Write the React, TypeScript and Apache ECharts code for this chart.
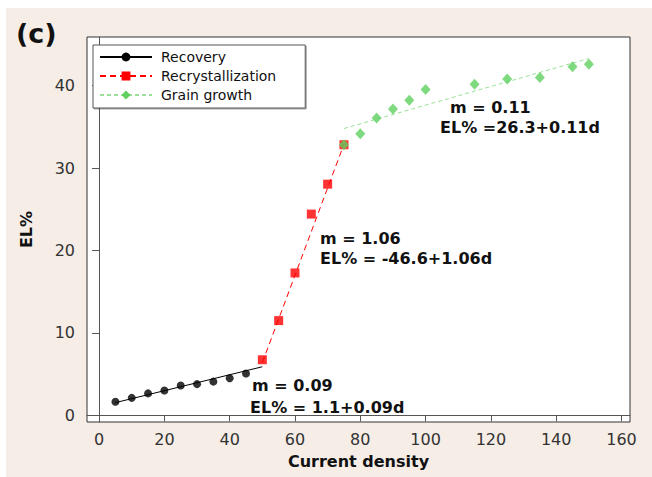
import React, { useEffect, useRef } from "react";
import * as echarts from "echarts";

const xTicks = [0, 20, 40, 60, 80, 100, 120, 140, 160];
const yTicks = [0, 10, 20, 30, 40];

const recoveryX = [5, 10, 15, 20, 25, 30, 35, 40, 45];
const recoveryY = [1.65, 2.13, 2.67, 3.03, 3.62, 3.79, 4.1, 4.5, 5.09];

const recrystX = [50, 55, 60, 65, 70, 75];
const recrystY = [6.75, 11.5, 17.28, 24.42, 28.05, 32.83];

const grainX = [75, 80, 85, 90, 95, 100, 115, 125, 135, 145, 150];
const grainY = [32.83, 34.17, 36.08, 37.16, 38.24, 39.53, 40.16, 40.8, 41.0, 42.3, 42.6];

const recoveryFit = [[5, 1.55], [50, 5.9]];
const recrystFit = [[50, 6.4], [75, 32.9]];
const grainFit = [[75, 34.8], [150, 43.3]];

const seriesNames = ["Recovery", "Recrystallization", "Grain growth"];

const annotations = [
  { text: "m = 0.09", x: 252, y: 385 },
  { text: "EL% = 1.1+0.09d", x: 250, y: 407 },
  { text: "m = 1.06", x: 320, y: 238 },
  { text: "EL% = -46.6+1.06d", x: 320, y: 258 },
  { text: "m = 0.11", x: 450, y: 107 },
  { text: "EL% =26.3+0.11d", x: 440, y: 127 },
];

const zip = (xs: number[], ys: number[]) => xs.map((x, i) => [x, ys[i]]);

const FONT = "DejaVu Sans";

export default function App() {
  const ref = useRef<HTMLDivElement>(null);
  useEffect(() => {
    if (!ref.current) return;
    const chart = echarts.init(ref.current, undefined, { renderer: "svg" });
    const green = "#5fcf5f";
    const option: any = {
      animation: false,
      backgroundColor: "transparent",
      grid: {
        left: 87,
        top: 37,
        right: 22,
        bottom: 55,
        show: true,
        backgroundColor: "#ffffff",
        borderColor: "#333333",
        borderWidth: 1,
      },
      legend: {
        orient: "vertical",
        left: 93,
        top: 45,
        data: seriesNames,
        itemWidth: 52,
        itemHeight: 11,
        itemGap: 5,
        padding: [5, 29, 6, 6],
        borderColor: "#555555",
        borderWidth: 1,
        backgroundColor: "#ffffff",
        shadowColor: "rgba(0,0,0,0.35)",
        shadowOffsetX: 1,
        shadowOffsetY: 1,
        shadowBlur: 0,
        selectedMode: false,
        textStyle: {
          fontFamily: FONT,
          fontSize: 14,
          color: "#111111",
          padding: [0, 0, 0, 4],
        },
      },
      xAxis: {
        type: "value",
        min: -3.7,
        max: 162.6,
        name: "Current density",
        nameLocation: "middle",
        nameGap: 31,
        nameTextStyle: { fontFamily: FONT, fontSize: 16, fontWeight: "bold", color: "#111111" },
        splitLine: { show: false },
        axisLine: { show: true, lineStyle: { color: "#555555", width: 1 } },
        axisTick: { show: true, customValues: xTicks, length: 6, lineStyle: { color: "#555555" } },
        axisLabel: {
          customValues: xTicks,
          margin: 9,
          fontFamily: FONT,
          fontSize: 16,
          color: "#333333",
        },
      },
      yAxis: {
        type: "value",
        min: -0.8,
        max: 45.9,
        name: "EL%",
        nameLocation: "middle",
        nameGap: 53,
        nameTextStyle: { fontFamily: FONT, fontSize: 16, fontWeight: "bold", color: "#111111" },
        splitLine: { show: false },
        axisLine: { show: true, lineStyle: { color: "#555555", width: 1 } },
        axisTick: { show: true, customValues: yTicks, length: 7, lineStyle: { color: "#555555" } },
        axisLabel: {
          customValues: yTicks,
          margin: 12,
          fontFamily: FONT,
          fontSize: 16,
          color: "#333333",
        },
      },
      series: [
        {
          name: seriesNames[0],
          type: "line",
          data: recoveryFit,
          symbol: "circle",
          symbolSize: 7,
          showSymbol: false,
          itemStyle: { color: "#000000" },
          lineStyle: { color: "#000000", width: 1, type: "solid" },
          z: 2,
        },
        {
          name: seriesNames[1],
          type: "line",
          data: recrystFit,
          symbol: "rect",
          symbolSize: 8,
          showSymbol: false,
          itemStyle: { color: "#ff0000" },
          lineStyle: { color: "#ff0000", width: 1, type: [6, 4] },
          z: 2,
        },
        {
          name: seriesNames[2],
          type: "line",
          data: grainFit,
          symbol: "diamond",
          symbolSize: 9,
          showSymbol: false,
          itemStyle: { color: green },
          lineStyle: { color: "#99e099", width: 1, type: [4, 3] },
          z: 2,
        },
        {
          name: "Recovery data",
          type: "scatter",
          data: zip(recoveryX, recoveryY),
          symbol: "circle",
          symbolSize: 8,
          itemStyle: { color: "#000000" },
          z: 3,
        },
        {
          name: "Recrystallization data",
          type: "scatter",
          data: zip(recrystX, recrystY),
          symbol: "rect",
          symbolSize: 9,
          itemStyle: { color: "#ff0000" },
          z: 3,
        },
        {
          name: "Grain growth data",
          type: "scatter",
          data: zip(grainX, grainY),
          symbol: "diamond",
          symbolSize: [10, 11],
          itemStyle: { color: green },
          z: 4,
        },
      ],
      graphic: [
        {
          type: "text",
          left: 16,
          top: 20,
          style: {
            text: "(c)",
            fontFamily: FONT,
            fontSize: 27,
            fontWeight: "bold",
            fill: "#111111",
          },
        },
        ...annotations.map((a) => ({
          type: "text",
          x: a.x,
          y: a.y,
          z: 10,
          style: {
            text: a.text,
            fontFamily: FONT,
            fontSize: 16,
            fontWeight: "bold",
            fill: "#111111",
            textVerticalAlign: "middle",
            verticalAlign: "middle",
          },
        })),
      ],
    };
    chart.setOption(option);
    return () => chart.dispose();
  }, []);

  return (
    <div style={{ position: "fixed", left: 0, top: 0, width: 652, height: 477, background: "#ffffff" }}>
      <div style={{ position: "absolute", left: 6, top: 8, right: 0, bottom: 0, background: "#f6ede7" }} />
      <div ref={ref} style={{ position: "absolute", left: 0, top: 0, width: 652, height: 477 }} />
    </div>
  );
}
